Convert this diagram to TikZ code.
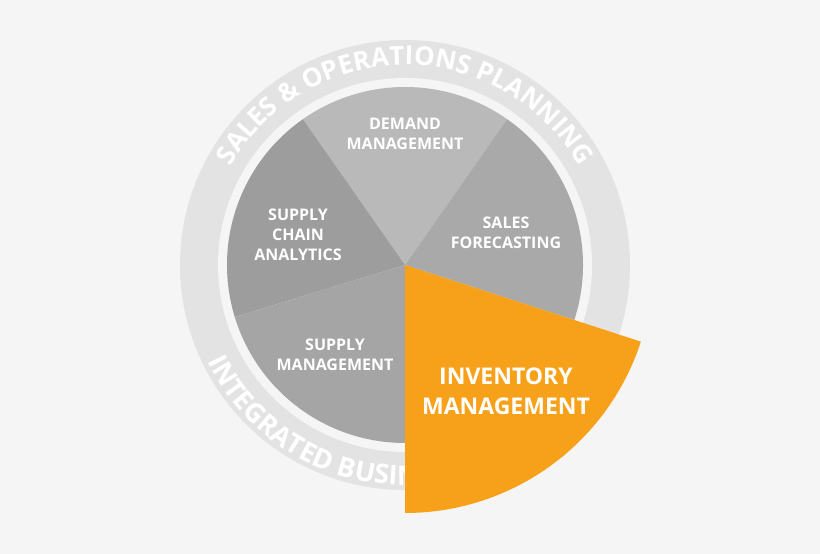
\documentclass[tikz,border=0pt]{standalone}
\usepackage{fontspec}
\setmainfont{Open Sans}
\usetikzlibrary{decorations.text}

\definecolor{bgcol}{HTML}{F5F5F5}
\definecolor{ringcol}{HTML}{E3E3E3}
\definecolor{demandcol}{HTML}{B9B9B9}
\definecolor{salescol}{HTML}{A9A9A9}
\definecolor{analyticscol}{HTML}{9D9D9D}
\definecolor{supplycol}{HTML}{A5A5A5}
\definecolor{invcol}{HTML}{F7A11A}

\begin{document}
\begin{tikzpicture}[x=1pt, y=1pt,
    label/.style={text=white, font=\fontsize{16}{20}\selectfont\bfseries, align=center},
    biglabel/.style={text=white, font=\fontsize{23}{30}\selectfont\bfseries, align=center},
    ringtext/.style={decorate, decoration={text along path, text align=center,
        text color=white, text={#1}}}]

    % background and outer ring
    \fill[bgcol] (0,0) rectangle (820,554);
    \coordinate (c) at (405,289);
    \fill[ringcol] (c) circle (225);
    \fill[bgcol] (c) circle (187);

    % ring texts
    \path[ringtext={|\fontsize{26}{26}\selectfont\bfseries|SALES {\&} OPERATIONS PLANNING}]
        ([shift={(158:200)}]c) arc (158:22:200);
    \path[decorate, decoration={text along path, text align=left, text color=white,
        text={|\fontsize{27}{27}\selectfont\bfseries|INTEGRATED BUSINESS}}]
        ([shift={(206:220)}]c) arc (206:330:220);

    % pie wedges
    \fill[demandcol] (c) -- ++(55:178) arc (55:125:178) -- cycle;
    \fill[analyticscol] (c) -- ++(125:178) arc (125:197:178) -- cycle;
    \fill[supplycol] (c) -- ++(197:178) arc (197:270:178) -- cycle;
    \fill[salescol] (c) -- ++(-18:178) arc (-18:55:178) -- cycle;
    \fill[invcol] (c) -- ++(-90:248) arc (-90:-18:248) -- cycle;

    % labels
    \node[label] (demand) at (405,420) {DEMAND\\MANAGEMENT};
    \node[label] (sales) at (506,321) {SALES\\FORECASTING};
    \node[label] (analytics) at (298,319) {SUPPLY\\CHAIN\\ANALYTICS};
    \node[label] (supply) at (335,199) {SUPPLY\\MANAGEMENT};
    \node[biglabel] (inventory) at (506,163) {INVENTORY\\MANAGEMENT};

\end{tikzpicture}
\end{document}
